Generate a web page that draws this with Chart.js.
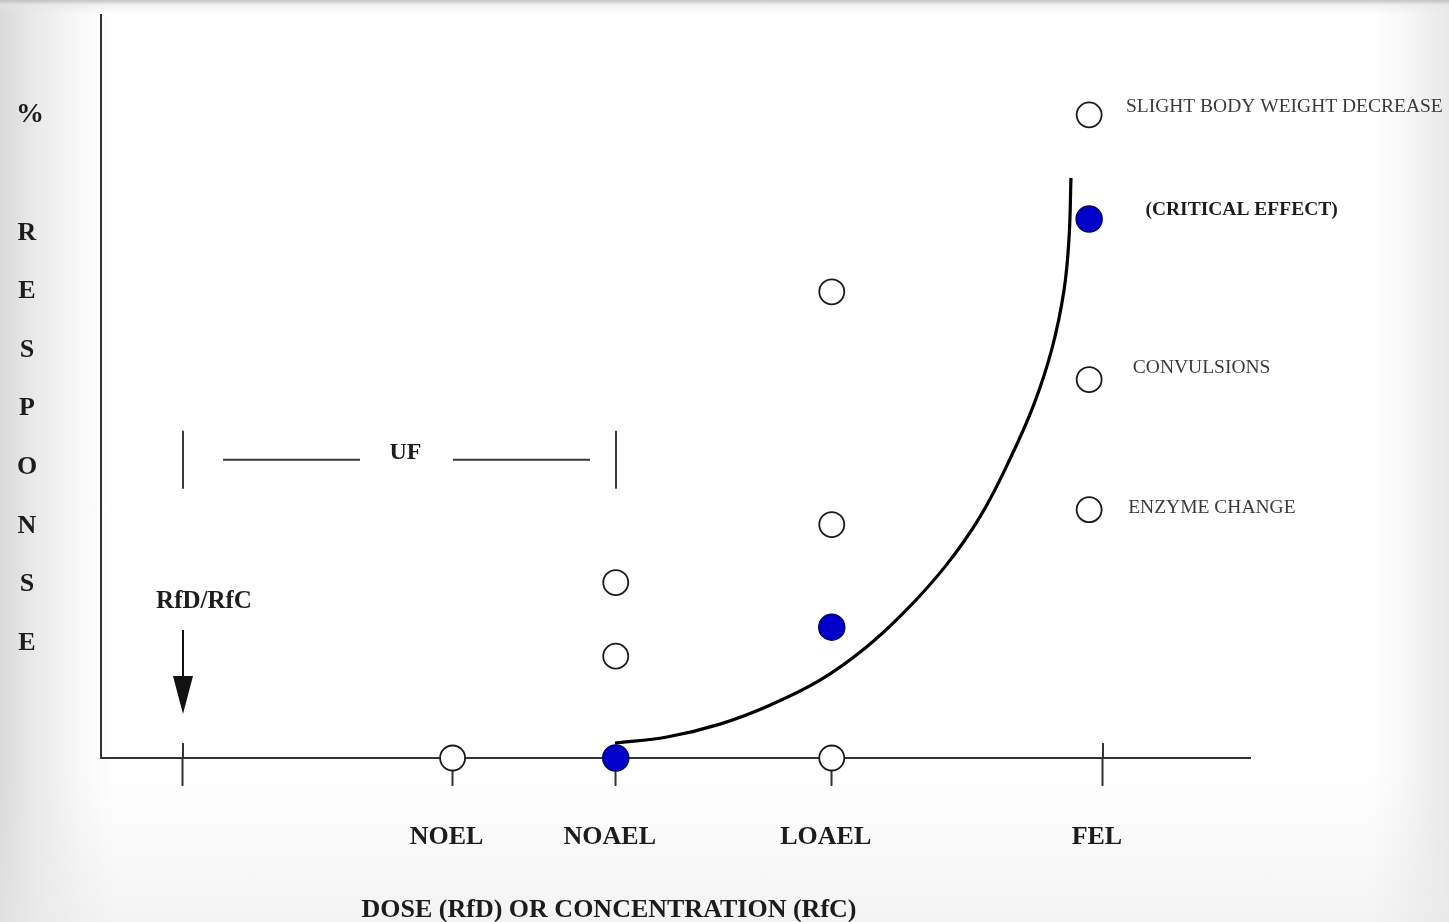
<!DOCTYPE html>
<html>
<head>
<meta charset="utf-8">
<script src="https://cdn.jsdelivr.net/npm/chart.js@4/dist/chart.umd.min.js"></script>
<style>
  html, body { margin: 0; padding: 0; }
  body {
    width: 1449px; height: 922px; overflow: hidden;
    background:
      linear-gradient(to bottom, rgba(190,190,190,0.9) 0px, rgba(230,230,230,0.5) 5px, rgba(255,255,255,0) 14px),
      linear-gradient(to top, rgba(232,232,232,0.5) 0px, rgba(255,255,255,0) 150px),
      linear-gradient(to right, #dadada 0px, #ececec 40px, #f8f8f8 80px, #ffffff 115px, #ffffff 1370px, #f7f7f7 1405px, #e9e9e9 1449px);
  }
  #wrap { position: absolute; left: 0; top: 0; width: 1449px; height: 922px; }
</style>
</head>
<body>
<div id="wrap"><canvas id="c"></canvas></div>
<script>
// ---- data (x: dose in relative units 0-100, y: % response 0-100) ----
const doseTicks  = [7.1, 30.6, 44.8, 63.6, 87.2];
const doseLabels = ['', 'NOEL', 'NOAEL', 'LOAEL', 'FEL'];

const openX   = [30.6, 44.8, 44.8, 63.6, 63.6, 63.6, 86.0, 86.0, 86.0];
const openY   = [0.0, 13.7, 23.6, 0.0, 31.4, 62.7, 86.5, 50.9, 33.4];

const filledX = [44.8, 63.6, 86.0];
const filledY = [0.0, 17.6, 72.5];

const curveX  = [44.73, 49.26, 53.87, 58.22, 62.58, 66.49, 69.97, 73.46, 76.50, 79.11, 81.20, 82.77, 83.81, 84.25, 84.42];
const curveY  = [2.01, 2.82, 4.56, 7.10, 10.46, 14.75, 19.71, 25.74, 32.44, 40.21, 47.59, 55.09, 62.87, 69.97, 78.02];

const effectLabels = ['SLIGHT BODY WEIGHT DECREASE', '(CRITICAL EFFECT)', 'CONVULSIONS', 'ENZYME CHANGE'];
const effectX      = [89.2, 90.9, 89.8, 89.4];
const effectY      = [87.7, 73.9, 52.7, 33.8];
const effectBold   = [false, true, false, false];

const yTitle = ['%', 'R', 'E', 'S', 'P', 'O', 'N', 'S', 'E'];
const xTitle = 'DOSE (RfD) OR CONCENTRATION (RfC)';
const rfdLabel = 'RfD/RfC';
const ufLabel = 'UF';
const ufY = 40.1;

const toPts = (xs, ys) => xs.map((v, i) => ({ x: v, y: ys[i] }));

const SERIF = '"Liberation Serif", "Times New Roman", serif';

const annotations = {
  id: 'annotations',
  beforeDatasetsDraw(chart) {
    const { ctx } = chart;
    const xs = chart.scales.x, ys = chart.scales.y;
    const y0 = ys.getPixelForValue(0);
    ctx.save();
    ctx.strokeStyle = '#333';
    ctx.lineWidth = 2;
    // tick marks crossing the axis for RfD and FEL
    [doseTicks[0], doseTicks[4]].forEach(v => {
      const px = Math.round(xs.getPixelForValue(v));
      ctx.beginPath(); ctx.moveTo(px, y0 - 15); ctx.lineTo(px, y0); ctx.stroke();
    });
    ctx.restore();
  },
  afterDraw(chart) {
    const { ctx } = chart;
    const xs = chart.scales.x, ys = chart.scales.y;
    const cap = (size) => 0.33 * size;
    ctx.save();
    ctx.textAlign = 'center';
    ctx.textBaseline = 'alphabetic';
    ctx.fillStyle = '#1c1c1c';

    // vertical y title
    ctx.font = 'bold 28px ' + SERIF;
    ctx.fillText(yTitle[0], 30, 113 + cap(28));
    ctx.font = 'bold 26px ' + SERIF;
    for (let i = 1; i < yTitle.length; i++) {
      ctx.fillText(yTitle[i], 27, 231 + (i - 1) * 58.6 + cap(26));
    }

    // x title
    ctx.font = 'bold 26px ' + SERIF;
    ctx.fillText(xTitle, 609, 908 + cap(26));

    // UF bracket
    const xa = Math.round(xs.getPixelForValue(doseTicks[0]));
    const xb = Math.round(xs.getPixelForValue(doseTicks[2]));
    const yu = ys.getPixelForValue(ufY);
    ctx.strokeStyle = '#3a3a3a';
    ctx.lineWidth = 2;
    ctx.beginPath();
    ctx.moveTo(xa, yu - 29); ctx.lineTo(xa, yu + 29);
    ctx.moveTo(xb, yu - 29); ctx.lineTo(xb, yu + 29);
    ctx.moveTo(xa + 40, yu); ctx.lineTo(xa + 177, yu);
    ctx.moveTo(xb - 163, yu); ctx.lineTo(xb - 26, yu);
    ctx.stroke();
    ctx.font = 'bold 24px ' + SERIF;
    ctx.fillText(ufLabel, (xa + xb) / 2 + 6, yu - 9 + cap(24));

    // RfD/RfC label and arrow
    ctx.font = 'bold 25px ' + SERIF;
    ctx.fillText(rfdLabel, xa + 21, 600 + cap(25));
    ctx.strokeStyle = '#111';
    ctx.beginPath(); ctx.moveTo(xa, 630); ctx.lineTo(xa, 680); ctx.stroke();
    ctx.fillStyle = '#111';
    ctx.beginPath();
    ctx.moveTo(xa - 10, 676); ctx.lineTo(xa + 10, 676); ctx.lineTo(xa, 714); ctx.closePath();
    ctx.fill();

    // effect labels
    ctx.textAlign = 'left';
    effectLabels.forEach((t, i) => {
      ctx.font = (effectBold[i] ? 'bold ' : '') + '19.5px ' + SERIF;
      ctx.fillStyle = effectBold[i] ? '#1c1c1c' : '#3a3a3a';
      ctx.fillText(t, xs.getPixelForValue(effectX[i]), ys.getPixelForValue(effectY[i]) + cap(19.5));
    });
    ctx.restore();
  }
};

new Chart(document.getElementById('c'), {
  type: 'scatter',
  data: {
    datasets: [
      {
        label: 'Adverse effect (filled)',
        data: toPts(filledX, filledY),
        pointRadius: 13,
        pointBackgroundColor: '#0000c8',
        pointBorderColor: '#000070',
        pointBorderWidth: 1.5,
        clip: false
      },
      {
        label: 'Effect (open)',
        data: toPts(openX, openY),
        pointRadius: 12.5,
        pointBackgroundColor: '#ffffff',
        pointBorderColor: '#1a1a1a',
        pointBorderWidth: 1.8,
        clip: false
      },
      {
        label: 'Dose-response curve',
        data: toPts(curveX, curveY),
        showLine: true,
        tension: 0.4,
        borderColor: '#000',
        borderWidth: 3.2,
        pointRadius: 0,
        fill: false,
        clip: false
      }
    ]
  },
  options: {
    responsive: true,
    maintainAspectRatio: false,
    animation: false,
    events: [],
    layout: { padding: { top: 12, right: 199, left: 0, bottom: 0 } },
    plugins: { legend: { display: false }, tooltip: { enabled: false } },
    scales: {
      x: {
        type: 'linear', min: 0, max: 100, position: 'bottom',
        afterBuildTicks: s => { s.ticks = doseTicks.map(v => ({ value: v })); },
        afterFit: s => { s.height = 164; },
        grid: { drawOnChartArea: false, drawTicks: true, tickLength: 28, tickWidth: 2, tickColor: '#333', color: '#333' },
        border: { display: true, color: '#333', width: 2 },
        ticks: {
          autoSkip: false, maxRotation: 0, minRotation: 0,
          padding: 36, labelOffset: -6,
          color: '#1c1c1c',
          font: { family: SERIF, size: 26, weight: 'bold' },
          callback: (v, i) => doseLabels[i]
        }
      },
      y: {
        type: 'linear', min: 0, max: 100, position: 'left',
        afterFit: s => { s.width = 101; },
        grid: { drawOnChartArea: false, drawTicks: false },
        border: { display: true, color: '#333', width: 2 },
        ticks: { display: false }
      }
    }
  },
  plugins: [annotations]
});
</script>
</body>
</html>
